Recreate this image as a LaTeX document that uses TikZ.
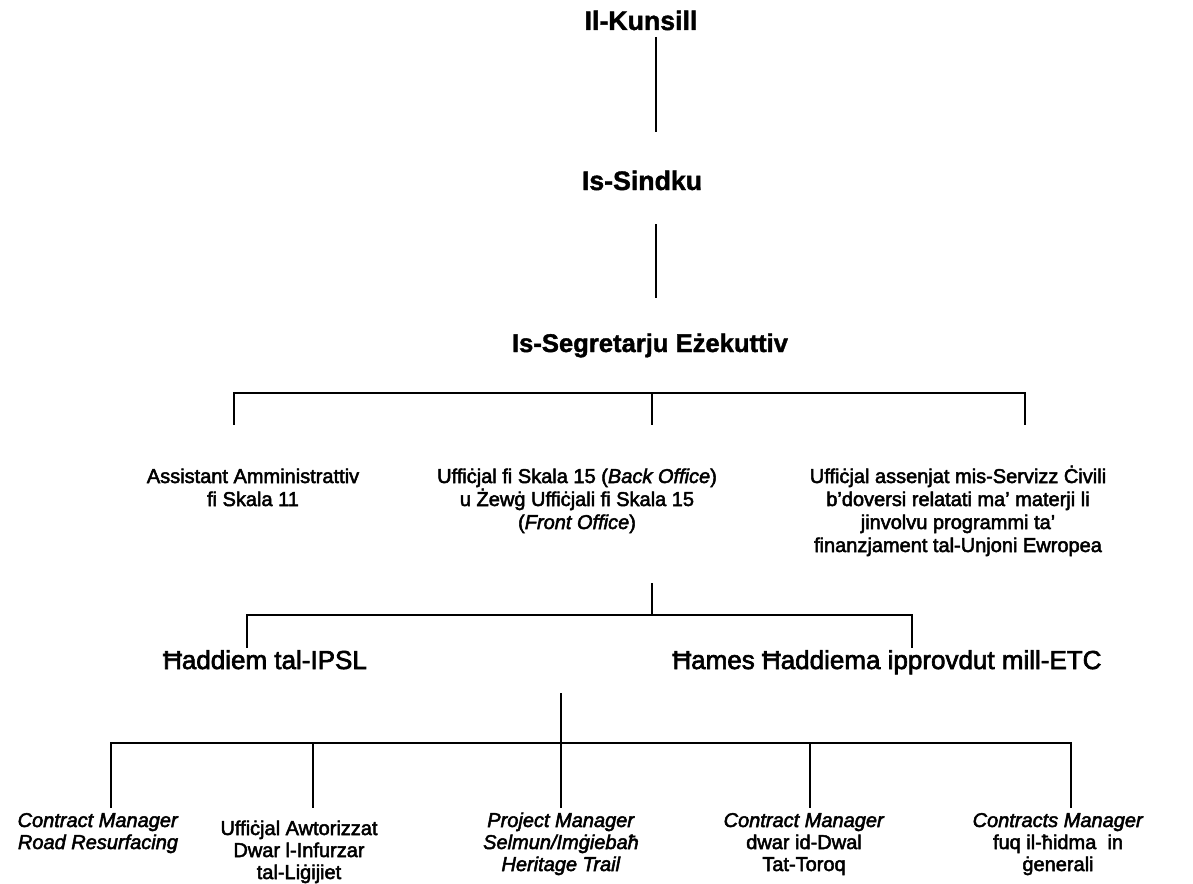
\documentclass[tikz,border=0pt]{standalone}
\usepackage{fontspec}
\setmainfont{Liberation Sans}[UprightFeatures={FakeBold=2.5},ItalicFeatures={FakeBold=2.5},BoldFeatures={FakeBold=1.5}]
\begin{document}
\begin{tikzpicture}[x=1pt,y=-1pt,
  lbl/.style={inner sep=0pt, anchor=base, align=center},
  big/.style={lbl, font=\bfseries\fontsize{26.7}{30}\selectfont},
  mid/.style={lbl, font=\fontsize{20}{23}\selectfont},
  sub/.style={lbl, font=\fontsize{26}{29}\selectfont},
  bot/.style={lbl, font=\fontsize{20}{22}\selectfont},
  link/.style={line width=1.8pt},
  hlink/.style={line width=2.4pt}]
\useasboundingbox (0,0) rectangle (1193,883);
% titles (anchor = baseline of the last line)
\node[big] (kunsill) at (641,30) {Il-Kunsill};
\node[big] (sindku) at (642,190) {Is-Sindku};
\node[big, font=\bfseries\fontsize{25.6}{28}\selectfont] (segretarju) at (650,352) {Is-Segretarju Eżekuttiv};
% middle row
\node[mid] (assistant) at (253,506) {Assistant Amministrattiv\\fi Skala 11};
\node[mid] (uffskala) at (577,529) {Uffiċjal fi Skala 15 (\textit{Back Office})\\u Żewġ Uffiċjali fi Skala 15\\(\textit{Front Office})};
\node[mid] (uffue) at (958,552) {Uffiċjal assenjat mis-Servizz Ċivili\\b’doversi relatati ma’ materji li\\jinvolvu programmi ta’\\finanzjament tal-Unjoni Ewropea};
% staff row
\node[sub] (ipsl) at (265,669) {Ħaddiem tal-IPSL};
\node[sub] (etc) at (887,669) {Ħames Ħaddiema ipprovdut mill-ETC};
% bottom row
\node[bot] (crr) at (98,849) {\textit{Contract Manager}\\\textit{Road Resurfacing}};
\node[bot] (awt) at (299,879) {Uffiċjal Awtorizzat\\Dwar l-Infurzar\\tal-Liġijiet};
\node[bot] (pm) at (561,871) {\textit{Project Manager}\\\textit{Selmun/Imġiebaħ}\\\textit{Heritage Trail}};
\node[bot] (cmd) at (804,871) {\textit{Contract Manager}\\dwar id-Dwal\\Tat-Toroq};
\node[bot] (cmg) at (1058,871) {\textit{Contracts Manager}\\fuq il-ħidma\ \ in\\ġenerali};
% connector points
\coordinate (k1) at (656,37);  \coordinate (k2) at (656,132);
\coordinate (s1) at (656,224); \coordinate (s2) at (656,298);
\coordinate (eL) at (234,393); \coordinate (eM) at (652,393); \coordinate (eR) at (1025,393);
\coordinate (eLd) at (234,425); \coordinate (eMd) at (652,425); \coordinate (eRd) at (1025,425);
\coordinate (m1) at (652,583); \coordinate (m2) at (652,615);
\coordinate (hL) at (247,615); \coordinate (hR) at (912,615);
\coordinate (hLd) at (247,648); \coordinate (hRd) at (912,648);
\coordinate (b0) at (561,693); \coordinate (bM) at (561,743);
\coordinate (b1) at (111,743); \coordinate (b2) at (313,743); \coordinate (b4) at (810,743); \coordinate (b5) at (1071,743);
\coordinate (b1d) at (111,808); \coordinate (b2d) at (313,808); \coordinate (b3d) at (561,808); \coordinate (b4d) at (810,808); \coordinate (b5d) at (1071,808);
% connectors
\draw[link] (k1) -- (k2);
\draw[link] (s1) -- (s2);
\draw[hlink] ([xshift=-0.9pt]eL) -- ([xshift=0.9pt]eR);
\draw[link] (eL) -- (eLd);
\draw[link] (eM) -- (eMd);
\draw[link] (eR) -- (eRd);
\draw[link] (m1) -- (m2);
\draw[hlink] ([xshift=-0.9pt]hL) -- ([xshift=0.9pt]hR);
\draw[link] (hL) -- (hLd);
\draw[link] (hR) -- (hRd);
\draw[link] (b0) -- (bM);
\draw[hlink] ([xshift=-0.9pt]b1) -- ([xshift=0.9pt]b5);
\draw[link] (b1) -- (b1d);
\draw[link] (b2) -- (b2d);
\draw[link] (bM) -- (b3d);
\draw[link] (b4) -- (b4d);
\draw[link] (b5) -- (b5d);
\end{tikzpicture}
\end{document}
